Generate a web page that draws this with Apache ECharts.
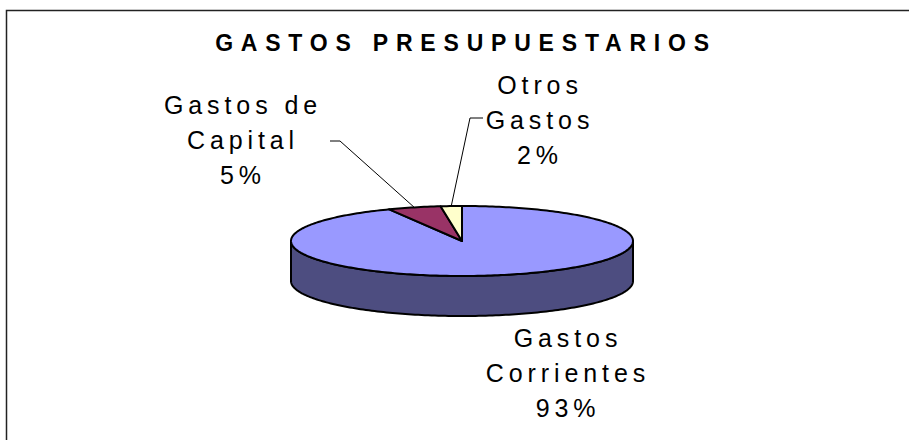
<!DOCTYPE html>
<html>
<head>
<meta charset="utf-8">
<title>Gastos presupuestarios</title>
<script src="https://cdn.jsdelivr.net/npm/echarts@6/dist/echarts.min.js"></script>
<style>
    html, body { margin: 0; padding: 0; background: #fff; }
    #main { width: 909px; height: 440px; }
    /* letras espaciadas como en el excel (svg acepta letter-spacing) */
    #main text { letter-spacing: 4.9px; }
    #main text[style*="bold"] { letter-spacing: 7.8px; }
</style>
</head>
<body>
<div id="main"></div>
<script>
// datos
var categories = ['Gastos Corrientes', 'Gastos de Capital', 'Otros Gastos'];
var labelNames = ['Gastos\nCorrientes', 'Gastos de\nCapital', 'Otros\nGastos'];
var values = [93, 5, 2];
var colors = ['#9999FF', '#993366', '#FFFFCC'];

// tarta "3d" aplanada
var cx = 462, cy = 241, rx = 171, ry = 35, depth = 40;
var startAngle = -Math.PI / 2;
// etiquetas movidas a mano en el original
var labelPos = [[568, 373], [243, 140], [540, 120]];
var leaderFrom = [null, [[330, 141], [340, 141]], [[483, 118], [470, 118]]];

var total = values.reduce(function (a, b) { return a + b; }, 0);

function sliceAngles(i) {
    var before = 0;
    for (var k = 0; k < i; k++) before += values[k];
    var a0 = startAngle + before / total * Math.PI * 2;
    return [a0, a0 + values[i] / total * Math.PI * 2];
}
function pt(a, dy) {
    return [cx + rx * Math.cos(a), cy + ry * Math.sin(a) + (dy || 0)];
}
function arc(a0, a1, dy) {
    var n = Math.max(2, Math.ceil(Math.abs(a1 - a0) / 0.02));
    var out = [];
    for (var j = 0; j <= n; j++) out.push(pt(a0 + (a1 - a0) * j / n, dy));
    return out;
}
function shade(hex, f) {
    var n = parseInt(hex.slice(1), 16);
    var r = Math.round((n >> 16 & 255) * f), g = Math.round((n >> 8 & 255) * f), b = Math.round((n & 255) * f);
    return 'rgb(' + r + ',' + g + ',' + b + ')';
}

var myChart = echarts.init(document.getElementById('main'), null, { renderer: 'svg' });

var option = {
    backgroundColor: '#fff',
    animation: false,
    title: {
        text: 'GASTOS PRESUPUESTARIOS',
        left: 466,
        top: 31,
        textAlign: 'center',
        padding: 0,
        textStyle: { fontFamily: 'Arial', fontSize: 23, fontWeight: 'bold', color: '#000' }
    },
    graphic: [{
        // solo borde de arriba e izquierda (el resto queda fuera del recorte)
        type: 'polyline',
        silent: true,
        shape: { points: [[6.5, 440], [6.5, 10.5], [909, 10.5]] },
        style: { fill: 'none', stroke: '#222', lineWidth: 1.5 }
    }],
    series: [
        {
            // lados (solo la mitad delantera se ve)
            type: 'custom',
            coordinateSystem: 'none',
            z: 1,
            data: values,
            renderItem: function (params, api) {
                var i = params.dataIndex;
                var a = sliceAngles(i);
                var kids = [];
                for (var k = -1; k <= 2; k++) {
                    var s = Math.max(a[0], k * 2 * Math.PI);
                    var e = Math.min(a[1], k * 2 * Math.PI + Math.PI);
                    if (e - s > 0.001) {
                        kids.push({
                            type: 'polygon',
                            shape: { points: arc(s, e, 0).concat(arc(e, s, depth)) },
                            style: { fill: shade(colors[i], 0.5), stroke: '#000', lineWidth: 2, lineJoin: 'round' }
                        });
                    }
                }
                return { type: 'group', children: kids };
            }
        },
        {
            // cara de arriba + etiquetas
            type: 'custom',
            coordinateSystem: 'none',
            z: 2,
            data: values,
            renderItem: function (params, api) {
                var i = params.dataIndex;
                var a = sliceAngles(i);
                var pct = Math.round(values[i] / total * 100);
                var kids = [{
                    type: 'polygon',
                    shape: { points: [[cx, cy]].concat(arc(a[0], a[1], 0)) },
                    style: { fill: colors[i], stroke: '#000', lineWidth: 2, lineJoin: 'round' }
                }];
                if (leaderFrom[i]) {
                    kids.push({
                        type: 'polyline',
                        shape: { points: leaderFrom[i].concat([pt((a[0] + a[1]) / 2, 0)]) },
                        style: { fill: 'none', stroke: '#000', lineWidth: 1 }
                    });
                }
                kids.push({
                    type: 'text',
                    style: {
                        text: labelNames[i] + '\n' + pct + '%',
                        x: labelPos[i][0],
                        y: labelPos[i][1],
                        fill: '#000',
                        font: '25px Arial',
                        align: 'center',
                        verticalAlign: 'middle',
                        lineHeight: 35
                    }
                });
                return { type: 'group', children: kids };
            }
        }
    ]
};

myChart.setOption(option);
</script>
</body>
</html>
